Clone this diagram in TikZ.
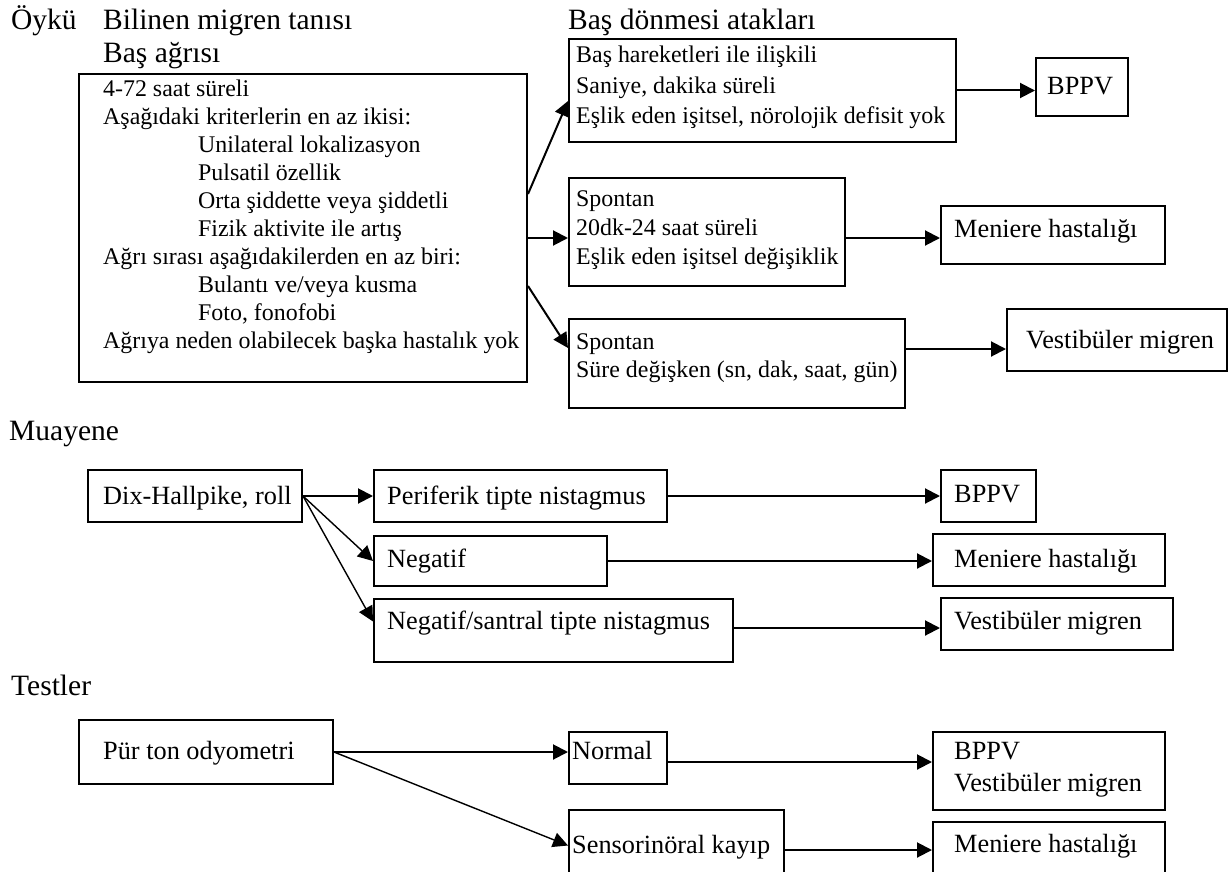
\documentclass[tikz,border=0pt]{standalone}
\usepackage{fontspec}
\setmainfont{Liberation Serif}
\usetikzlibrary{arrows.meta}
\tikzset{
	kutu/.style={draw, line width=2pt, inner sep=0pt, anchor=north west},
	satir/.style={inner sep=0pt, anchor=base west, font=\fontsize{26.3}{32}\selectfont},
	blok/.style={inner sep=0pt, anchor=north west, align=left, font=\fontsize{23.9}{28}\selectfont},
	baslik/.style={inner sep=0pt, anchor=base west, font=\fontsize{29.5}{34}\selectfont},
	ok/.style={line width=2pt},
	inceok/.style={line width=1.4pt}
}
\begin{document}
\begin{tikzpicture}[x=1pt, y=-1pt, >={Triangle[length=15pt,width=15pt]}]
		\useasboundingbox (0,0) rectangle (1231,872);
		\clip (0,0) rectangle (1231,872);
		\node[baslik] (oyku) at (11,29.5) {Öykü};
		\node[baslik] (bilinen) at (103,29.5) {Bilinen migren tanısı};
		\node[baslik] (basagrisi) at (103,63) {Baş ağrısı};
		\node[baslik] (atak) at (568,29.5) {Baş dönmesi atakları};
		\node[baslik] (muayene) at (9,440) {Muayene};
		\node[baslik] (testler) at (11,695) {Testler};
		\node[kutu, minimum width=448pt, minimum height=308pt] (agri) at (78,73) {};
		\node[blok] (agrit) at (103,76) {\rule{0pt}{20pt}4-72 saat süreli\\
			Aşağıdaki kriterlerin en az ikisi:\\
			\hspace*{95pt}Unilateral lokalizasyon\\
			\hspace*{95pt}Pulsatil özellik\\
			\hspace*{95pt}Orta şiddette veya şiddetli\\
			\hspace*{95pt}Fizik aktivite ile artış\\
			Ağrı sırası aşağıdakilerden en az biri:\\
			\hspace*{95pt}Bulantı ve/veya kusma\\
			\hspace*{95pt}Foto, fonofobi\\
			Ağrıya neden olabilecek başka hastalık yok};
		\node[kutu, minimum width=387pt, minimum height=103pt] (hareket) at (568,38) {};
		\node[blok, font=\fontsize{23.9}{30.5}\selectfont] (harekett) at (576,42.5) {\rule{0pt}{20pt}Baş hareketleri ile ilişkili\\Saniye, dakika süreli\\Eşlik eden işitsel, nörolojik defisit yok};
		\node[kutu, minimum width=276pt, minimum height=108pt] (spontan) at (568,177) {};
		\node[blok, font=\fontsize{23.9}{29}\selectfont] (spontant) at (576,186) {\rule{0pt}{20pt}Spontan\\20dk-24 saat süreli\\Eşlik eden işitsel değişiklik};
		\node[kutu, minimum width=336pt, minimum height=89pt] (degisken) at (568,318) {};
		\node[blok] (degiskent) at (576,329) {\rule{0pt}{20pt}Spontan\\Süre değişken (sn, dak, saat, gün)};
		\node[kutu, minimum width=92pt, minimum height=58pt] (bppva) at (1035,57) {};
		\node[satir] (bppvat) at (1047,95) {BPPV};
		\node[kutu, minimum width=224pt, minimum height=58pt] (meniea) at (940,205) {};
		\node[satir] (meniet) at (954,237) {Meniere hastalığı};
		\node[kutu, minimum width=220pt, minimum height=62pt] (vesta) at (1006,308) {};
		\node[satir] (vestat) at (1026,348) {Vestibüler migren};
		\node[kutu, minimum width=214pt, minimum height=52pt] (dix) at (87,469) {};
		\node[satir] (dixt) at (103,504) {Dix-Hallpike, roll};
		\node[kutu, minimum width=293pt, minimum height=52pt] (periferik) at (373,469) {};
		\node[satir] (periferikt) at (387,504) {Periferik tipte nistagmus};
		\node[kutu, minimum width=233pt, minimum height=50pt] (negatif) at (373,535) {};
		\node[satir] (negatift) at (387,567) {Negatif};
		\node[kutu, minimum width=359pt, minimum height=63pt] (santral) at (373,598) {};
		\node[satir] (santralt) at (387,629) {Negatif/santral tipte nistagmus};
		\node[kutu, minimum width=95pt, minimum height=52pt] (bppvb) at (940,469) {};
		\node[satir] (bppvbt) at (954,502) {BPPV};
		\node[kutu, minimum width=232pt, minimum height=52pt] (menieb) at (932,533) {};
		\node[satir] (meniebt) at (954,567) {Meniere hastalığı};
		\node[kutu, minimum width=232pt, minimum height=52pt] (vestb) at (940,597) {};
		\node[satir] (vestbt) at (954,629) {Vestibüler migren};
		\node[kutu, minimum width=254pt, minimum height=64pt] (odyo) at (78,719) {};
		\node[satir] (odyot) at (103,759) {Pür ton odyometri};
		\node[kutu, minimum width=98pt, minimum height=52pt] (normal) at (568,731) {};
		\node[satir] (normalt) at (572,759) {Normal};
		\node[kutu, minimum width=215pt, minimum height=71pt] (sensori) at (568,809) {};
		\node[satir] (sensorit) at (572,853) {Sensorinöral kayıp};
		\node[kutu, minimum width=232pt, minimum height=78pt] (ikili) at (932,731) {};
		\node[blok, font=\fontsize{26.3}{32}\selectfont] (ikilit) at (954,737) {\rule{0pt}{22pt}BPPV\\Vestibüler migren};
		\node[kutu, minimum width=232pt, minimum height=59pt] (meniec) at (932,821) {};
		\node[satir] (meniect) at (954,852) {Meniere hastalığı};
		\draw[ok,->] ([yshift=34pt]agri.east) -- ([yshift=-10.5pt]hareket.west);
		\draw[ok,->] ([yshift=-10pt]agri.east) -- ([yshift=-10pt]agri.east -| spontan.west);
		\draw[ok,->] ([yshift=-58pt]agri.east) -- ([yshift=15.5pt]degisken.west);
		\draw[ok,->] (hareket.east) -- (hareket.east -| bppva.west);
		\draw[ok,->] ([yshift=-6pt]spontan.east) -- ([yshift=-6pt]spontan.east -| meniea.west);
		\draw[ok,->] ([yshift=14.5pt]degisken.east) -- ([yshift=14.5pt]degisken.east -| vesta.west);
		\draw[ok,->] (dix.east) -- (periferik.west);
		\draw[inceok,->] (dix.east) -- (negatif.west);
		\draw[inceok,->] (dix.east) -- ([yshift=9pt]santral.west);
		\draw[ok,->] (periferik.east) -- (bppvb.west);
		\draw[ok,->] (negatif.east) -- (negatif.east -| menieb.west);
		\draw[ok,->] ([yshift=2.5pt]santral.east) -- ([yshift=2.5pt]santral.east -| vestb.west);
		\draw[ok,->] (odyo.east) -- (odyo.east -| normal.west);
		\draw[inceok,->] (odyo.east) -- (sensori.west);
		\draw[ok,->] ([yshift=-4pt]normal.east) -- ([yshift=-4pt]normal.east -| ikili.west);
		\draw[ok,->] ([yshift=-4.5pt]sensori.east) -- ([yshift=-4.5pt]sensori.east -| meniec.west);
	\end{tikzpicture}
\end{document}
